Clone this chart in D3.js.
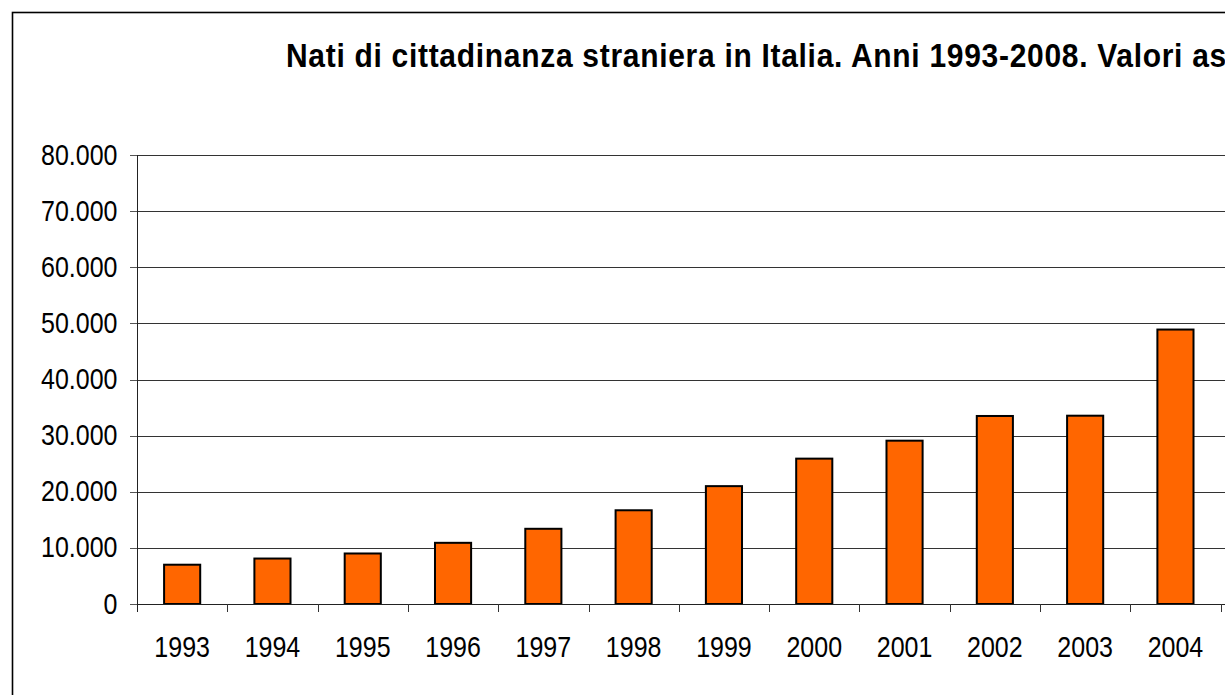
<!DOCTYPE html>
<html>
<head>
<meta charset="utf-8">
<script src="https://cdn.jsdelivr.net/npm/d3@7"></script>
<style>
html, body { margin: 0; padding: 0; background: #fff; overflow: hidden; }
svg { display: block; }
text { font-family: "Liberation Sans", Arial, sans-serif; fill: #000; }
</style>
</head>
<body>
<script>
const title = "Nati di cittadinanza straniera in Italia. Anni 1993-2008. Valori assoluti";
const years = ["1993","1994","1995","1996","1997","1998","1999","2000","2001","2002","2003","2004","2005","2006","2007","2008"];
const births = [7000, 8100, 9000, 10900, 13400, 16700, 21000, 25900, 29100, 33500, 33550, 48900, 52000, 57800, 64000, 72500];
const yTicks = [0, 10000, 20000, 30000, 40000, 50000, 60000, 70000, 80000];

const W = 1700, H = 800;
const STRETCH = 1.16;
const plot = { left: 137, top: 155, bottom: 604, step: 90.3 };

const svg = d3.select("body").append("svg").attr("width", W).attr("height", H);

// outer chart border
svg.append("rect")
  .attr("x", 12.5).attr("y", 12.5)
  .attr("width", plot.left + years.length * plot.step + 100)
  .attr("height", 760)
  .attr("fill", "#fff").attr("stroke", "#000").attr("stroke-width", 1.6);

const itLocale = d3.formatLocale({ decimal: ",", thousands: ".", grouping: [3], currency: ["€", ""] });
const fmt = itLocale.format(",d");

const x = d3.scaleBand().domain(years)
  .range([plot.left, plot.left + years.length * plot.step])
  .paddingInner(0.6).paddingOuter(0.3);
const xOuter = d3.scaleBand().domain(years)
  .range([plot.left, plot.left + years.length * plot.step]).padding(0);
const y = d3.scaleLinear().domain([0, 80000]).range([plot.bottom, plot.top]);

// gridlines
svg.append("g").selectAll("line").data(yTicks.filter(d => d > 0)).join("line")
  .attr("x1", plot.left).attr("x2", W)
  .attr("y1", d => Math.round(y(d)) + 0.5).attr("y2", d => Math.round(y(d)) + 0.5)
  .attr("stroke", "#333").attr("stroke-width", 1);

// y ticks
svg.append("g").selectAll("line").data(yTicks).join("line")
  .attr("x1", plot.left - 7).attr("x2", plot.left)
  .attr("y1", d => Math.round(y(d)) + 0.5).attr("y2", d => Math.round(y(d)) + 0.5)
  .attr("stroke", "#555").attr("stroke-width", 1);

// bars
svg.append("g").selectAll("rect").data(years).join("rect")
  .attr("x", d => x(d)).attr("width", x.bandwidth())
  .attr("y", (d, i) => y(births[i])).attr("height", (d, i) => plot.bottom - y(births[i]))
  .attr("fill", "#FF6600").attr("stroke", "#000").attr("stroke-width", 2);

// axes lines
svg.append("line").attr("x1", plot.left + 0.5).attr("x2", plot.left + 0.5)
  .attr("y1", plot.top).attr("y2", plot.bottom + 8).attr("stroke", "#222").attr("stroke-width", 1);
svg.append("line").attr("x1", plot.left).attr("x2", W)
  .attr("y1", plot.bottom + 0.5).attr("y2", plot.bottom + 0.5).attr("stroke", "#222").attr("stroke-width", 1);

// x ticks at band boundaries
svg.append("g").selectAll("line").data(years.slice(1)).join("line")
  .attr("x1", d => Math.round(xOuter(d)) + 0.5).attr("x2", d => Math.round(xOuter(d)) + 0.5)
  .attr("y1", plot.bottom).attr("y2", plot.bottom + 8)
  .attr("stroke", "#333").attr("stroke-width", 1);

// y labels
svg.append("g").selectAll("g").data(yTicks).join("g")
  .attr("transform", d => `translate(117.5,${y(d) + 9.5}) scale(1,${STRETCH})`)
  .append("text").attr("text-anchor", "end").attr("font-size", 25).text(d => fmt(d));

// x labels
svg.append("g").selectAll("g").data(years).join("g")
  .attr("transform", d => `translate(${x(d) + x.bandwidth() / 2},657) scale(1,${STRETCH})`)
  .append("text").attr("text-anchor", "middle").attr("font-size", 25).text(d => d);

// title
svg.append("g").attr("transform", `translate(286,67) scale(1,1.12)`)
  .append("text").attr("font-size", 30).attr("letter-spacing", 0.7).attr("font-weight", "bold").text(title);
</script>
</body>
</html>
